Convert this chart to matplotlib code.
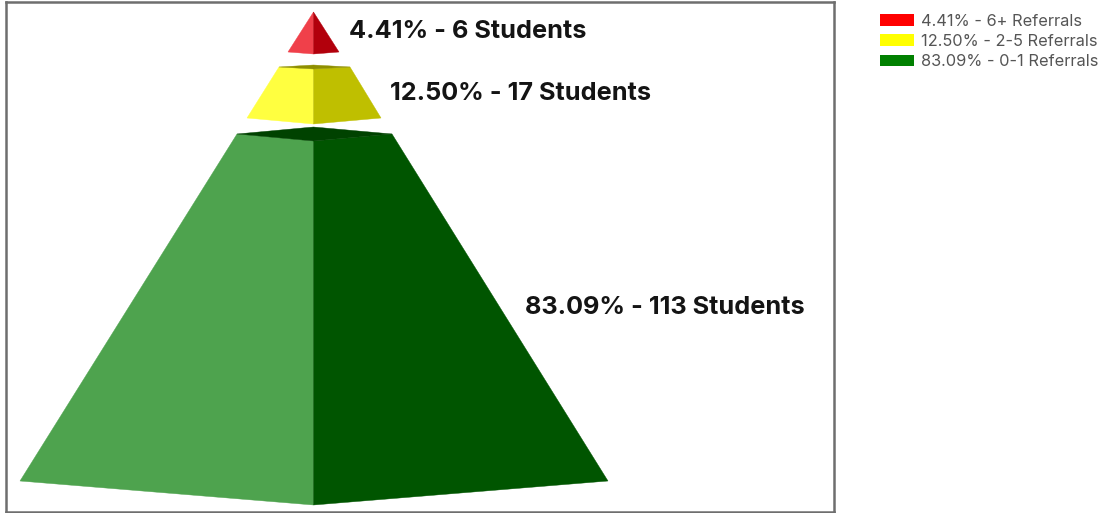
import matplotlib
matplotlib.use("Agg")
import matplotlib.pyplot as plt
from matplotlib.patches import Patch

plt.rcParams['font.family'] = ['Inter', 'Liberation Sans', 'DejaVu Sans']

# referral tiers, top of the pyramid first
percents = [4.41, 12.50, 83.09]
students = [6, 17, 113]
referrals = ["6+", "2-5", "0-1"]

# tier outlines on the drawing axes
axis_x = 313.5
top_y = [12, 67, 134]
top_back_y = [12, 65, 127]
top_front_y = [12, 69, 141]
top_left_x = [313.5, 279, 237]
top_right_x = [313.5, 350, 392]
base_y = [52, 118, 481]
base_front_y = [54, 124, 505]
base_left_x = [288, 247, 20]
base_right_x = [339, 381, 608]

legend_colors = ["#ff0000", "#ffff00", "#008000"]
left_colors = ["#f0404a", "#ffff40", "#4ea34e"]
right_colors = ["#b2000c", "#bfbf00", "#005500"]
cap_colors = ["#b2000c", "#8f8f00", "#004200"]

label_x = [349, 390, 525]
label_y = [32, 93, 307.5]

fig = plt.figure(figsize=(11.05, 5.13), dpi=100)
ax = fig.add_axes([5.5 / 1105, 1 - 512 / 513, 828 / 1105, 510 / 513])
ax.set_xlim(5.5, 833.5)
ax.set_ylim(512, 2)
ax.set_xticks([])
ax.set_yticks([])
for spine in ax.spines.values():
    spine.set_color("#6e6e6e")
    spine.set_linewidth(1.8)

for i in range(len(percents)):
    # left face, right face, then the flat cap on top of the tier
    ax.fill([top_left_x[i], axis_x, axis_x, base_left_x[i]],
            [top_y[i], top_front_y[i], base_front_y[i], base_y[i]],
            color=left_colors[i], lw=0.3)
    ax.fill([axis_x, top_right_x[i], base_right_x[i], axis_x],
            [top_front_y[i], top_y[i], base_y[i], base_front_y[i]],
            color=right_colors[i], lw=0.3)
    ax.fill([top_left_x[i], axis_x, top_right_x[i], axis_x],
            [top_y[i], top_back_y[i], top_y[i], top_front_y[i]],
            color=cap_colors[i], lw=0.3)
    ax.text(label_x[i], label_y[i], f"{percents[i]:.2f}% - {students[i]} Students",
            fontsize=18.2, fontweight='bold', color="#141414", ha='left', va='center')

handles = [Patch(facecolor=c, edgecolor=c, linewidth=0) for c in legend_colors]
labels = [f"{p:.2f}% - {r} Referrals" for p, r in zip(percents, referrals)]
fig.legend(handles, labels, loc='upper left', bbox_to_anchor=(880 / 1105, 1 - 13.5 / 513),
           frameon=False, fontsize=11.8, labelcolor="#555555", handlelength=2.1,
           handleheight=0.7, handletextpad=0.42, labelspacing=0.33,
           borderpad=0, borderaxespad=0)

fig.savefig("out.png", dpi=100)
